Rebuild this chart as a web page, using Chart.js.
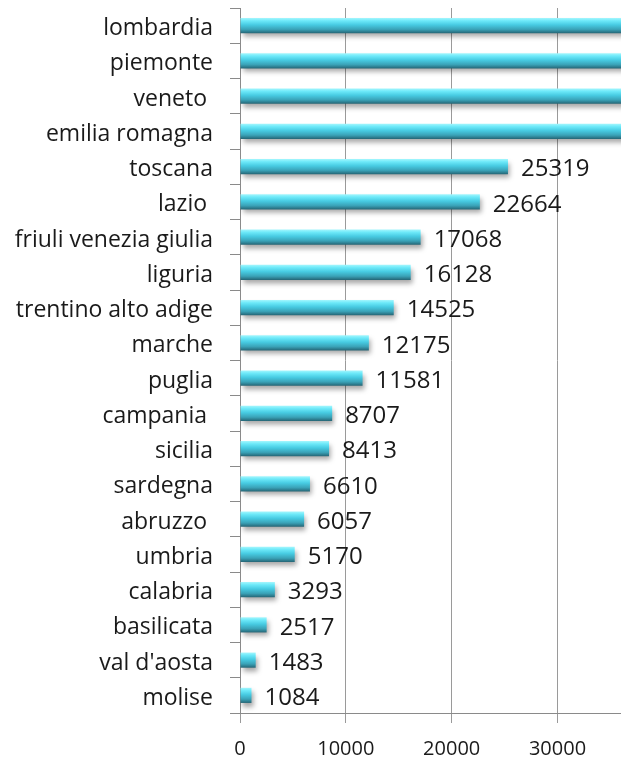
<!DOCTYPE html>
<html>
<head>
<meta charset="utf-8">
<script src="https://cdn.jsdelivr.net/npm/chart.js@4"></script>
<style>
  html, body { margin: 0; padding: 0; background: #fff; }
  #wrap { width: 621px; height: 760px; }
</style>
</head>
<body>
<div id="wrap"><canvas id="myChart"></canvas></div>
<script>
// regions, top to bottom
const regions = ['lombardia', 'piemonte', 'veneto ', 'emilia romagna', 'toscana', 'lazio ',
    'friuli venezia giulia', 'liguria', 'trentino alto adige', 'marche', 'puglia', 'campania ',
    'sicilia', 'sardegna', 'abruzzo ', 'umbria', 'calabria', 'basilicata', "val d'aosta", 'molise'];
// first four run off the right edge, values not visible (estimated)
const values = [62000, 44000, 42000, 40000, 25319, 22664, 17068, 16128, 14525, 12175, 11581, 8707,
    8413, 6610, 6057, 5170, 3293, 2517, 1483, 1084];
const xTicks = [0, 10000, 20000, 30000];
const xMax = 36000;
const barPct = 0.43;

// cylinder-like gradient for each bar, placed from the category scale
function barGradient(context)
{
    let chart = context.chart;
    let yScale = chart.scales.y;
    if (!chart.chartArea || !yScale) return '#45c6dd';
    let mid = yScale.getPixelForValue(context.dataIndex);
    let half = (chart.chartArea.height / regions.length) * barPct / 2;
    let g = chart.ctx.createLinearGradient(0, mid - half, 0, mid + half);
    g.addColorStop(0, '#a4f6fd');
    g.addColorStop(0.18, '#6de9f9');
    g.addColorStop(0.45, '#47cbe2');
    g.addColorStop(0.75, '#3aa2b7');
    g.addColorStop(1, '#256575');
    return g;
}

// soft shadow under the bars
const shadowPlugin = {
    id: 'shadow',
    beforeDatasetsDraw(chart) {
        let ctx = chart.ctx;
        ctx.save();
        ctx.shadowColor = 'rgba(0,0,0,0.35)';
        ctx.shadowBlur = 5;
        ctx.shadowOffsetX = 2;
        ctx.shadowOffsetY = 4;
    },
    afterDatasetsDraw(chart) {
        chart.ctx.restore();
    }
};

// value labels at the end of each bar
const valueLabels = {
    id: 'valueLabels',
    afterDatasetsDraw(chart) {
        let ctx = chart.ctx;
        ctx.save();
        ctx.font = '24px "Open Sans", sans-serif';
        ctx.fillStyle = '#1a1a1a';
        ctx.textAlign = 'left';
        ctx.textBaseline = 'middle';
        chart.getDatasetMeta(0).data.forEach(function (bar, i) {
            if (values[i] > xMax) return;
            ctx.fillText(String(values[i]), bar.x + 13, bar.y + 3);
        });
        ctx.restore();
    }
};

Chart.defaults.font.family = '"Open Sans", sans-serif';
Chart.defaults.color = '#1a1a1a';

let myChart = document.getElementById('myChart').getContext('2d');

let chart_1 = new Chart(myChart,
{
    type: 'bar',
    data:
    {
        labels: regions,
        datasets:
        [
            {
                data: values,
                backgroundColor: barGradient,
                borderWidth: 0,
                barPercentage: barPct,
                categoryPercentage: 1
            }
        ]
    },
    options:
    {
        indexAxis: 'y',
        responsive: true,
        maintainAspectRatio: false,
        animation: false,
        layout: { padding: { top: 8, right: 0, left: 0, bottom: 0 } },
        plugins:
        {
            legend: { display: false },
            tooltip: { enabled: false }
        },
        scales:
        {
            x:
            {
                min: 0,
                max: xMax,
                afterBuildTicks: function (scale) {
                    scale.ticks = xTicks.map(function (v) { return { value: v }; });
                },
                afterFit: function (scale) { scale.height = 47; },
                grid:
                {
                    color: '#9a9a9a',
                    lineWidth: 1,
                    tickLength: 10
                },
                border: { color: '#8a8a8a', width: 1 },
                ticks:
                {
                    font: { size: 20 },
                    color: '#1a1a1a',
                    padding: 14,
                    maxRotation: 0,
                    callback: function (v) { return String(v); }
                }
            },
            y:
            {
                afterFit: function (scale) {
                    scale.width = 240;
                    scale.paddingTop = 0;
                    scale.paddingBottom = 0;
                },
                grid:
                {
                    drawOnChartArea: false,
                    color: '#8a8a8a',
                    tickLength: 10,
                    offset: true
                },
                border: { color: '#8a8a8a', width: 1 },
                ticks:
                {
                    font: { size: 23 },
                    color: '#1a1a1a',
                    padding: 17,
                    labelOffset: 3,
                    autoSkip: false
                }
            }
        }
    },
    plugins: [shadowPlugin, valueLabels]
});
</script>
</body>
</html>
